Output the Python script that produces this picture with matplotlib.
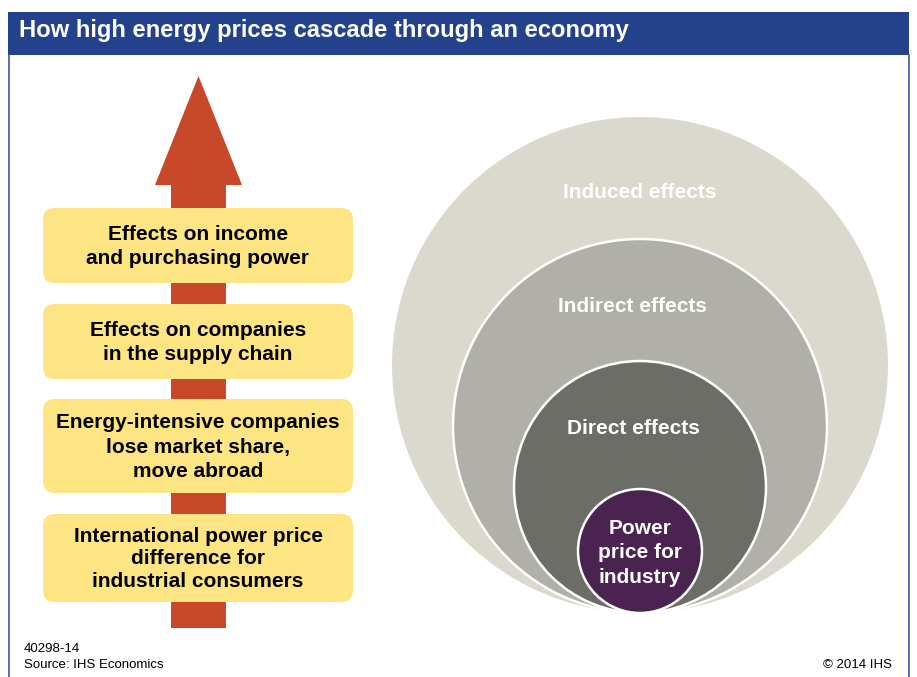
import matplotlib.pyplot as plt
from matplotlib.patches import Rectangle, FancyBboxPatch, Polygon, Circle

## CONTENT

title = "How high energy prices cascade through an economy"

# left column, top to bottom
box_labels = [
    "Effects on income\nand purchasing power",
    "Effects on companies\nin the supply chain",
    "Energy-intensive companies\nlose market share,\nmove abroad",
    "International power price\ndifference for\nindustrial consumers",
]

# right column, outer to inner
ring_labels = ["Induced effects", "Indirect effects", "Direct effects",
               "Power\nprice for\nindustry"]

footer_code = "40298-14"
footer_source = "Source: IHS Economics"
footer_right = "\u00a9 2014 IHS"

## LAYOUT (pixels, y down)

W, H = 917, 677
box_top = [208, 304, 399, 514]
box_bottom = [283, 379, 493, 602]
box_spacing = [1.35, 1.35, 1.35, 1.25]
box_x0, box_x1 = 43, 353

ring_radius = [248, 187, 126, 62]
ring_bottom = 613
ring_cx = 640
ring_label_y = [193, 307, 429, 553]
ring_colors = ["#DBD9CE", "#B0B0A8", "#6D6D67", "#4A2350"]

blue = "#24418B"
arrow_col = "#C8482A"
box_col = "#FDE583"

plt.rcParams['font.family'] = ['Liberation Sans', 'DejaVu Sans']

fig = plt.figure(figsize=(W / 100, H / 100), dpi=100)
ax = fig.add_axes([0, 0, 1, 1])
ax.set_xlim(0, W)
ax.set_ylim(H, 0)
ax.axis('off')

# header band + frame
ax.add_patch(Rectangle((8, 12), 901, 43, color=blue, lw=0))
ax.plot([8.5, 8.5], [55, H], color="#3B57A3", lw=1.2)
ax.plot([908.5, 908.5], [55, H], color="#3B57A3", lw=1.2)
ax.text(19, 31, title, color="white", fontsize=17.1, fontweight="bold",
        va="center", ha="left")

# arrow
sx0, sx1 = 171, 226
arrow = [(sx0, 628), (sx0, 185), (155, 185), (198.5, 76), (242, 185),
         (sx1, 185), (sx1, 628)]
ax.add_patch(Polygon(arrow, closed=True, color=arrow_col, lw=0))

# boxes
for label, t, b, ls in zip(box_labels, box_top, box_bottom, box_spacing):
    ax.add_patch(FancyBboxPatch((box_x0, t), box_x1 - box_x0, b - t,
                                boxstyle="round,pad=0,rounding_size=12",
                                fc=box_col, ec="none"))
    ax.text((box_x0 + box_x1) / 2, (t + b) / 2 + 1, label, ha="center",
            va="center", fontsize=15, fontweight="bold", color="black",
            linespacing=ls)

# nested circles
for i, (r, c) in enumerate(zip(ring_radius, ring_colors)):
    ax.add_patch(Circle((ring_cx, ring_bottom - r), r, fc=c,
                        ec="white" if i > 0 else "none", lw=1.8))

for i, (label, y) in enumerate(zip(ring_labels, ring_label_y)):
    ax.text(ring_cx if i in (0, 3) else ring_cx - 7, y, label, ha="center",
            va="center", fontsize=15, fontweight="bold", color="white",
            linespacing=1.35)

# footer
ax.text(24, 652, footer_code, ha="left", va="baseline", fontsize=9.5)
ax.text(24, 668, footer_source, ha="left", va="baseline", fontsize=9.5)
ax.text(892, 668, footer_right, ha="right", va="baseline", fontsize=9.5)

fig.savefig("out.png", dpi=100)
